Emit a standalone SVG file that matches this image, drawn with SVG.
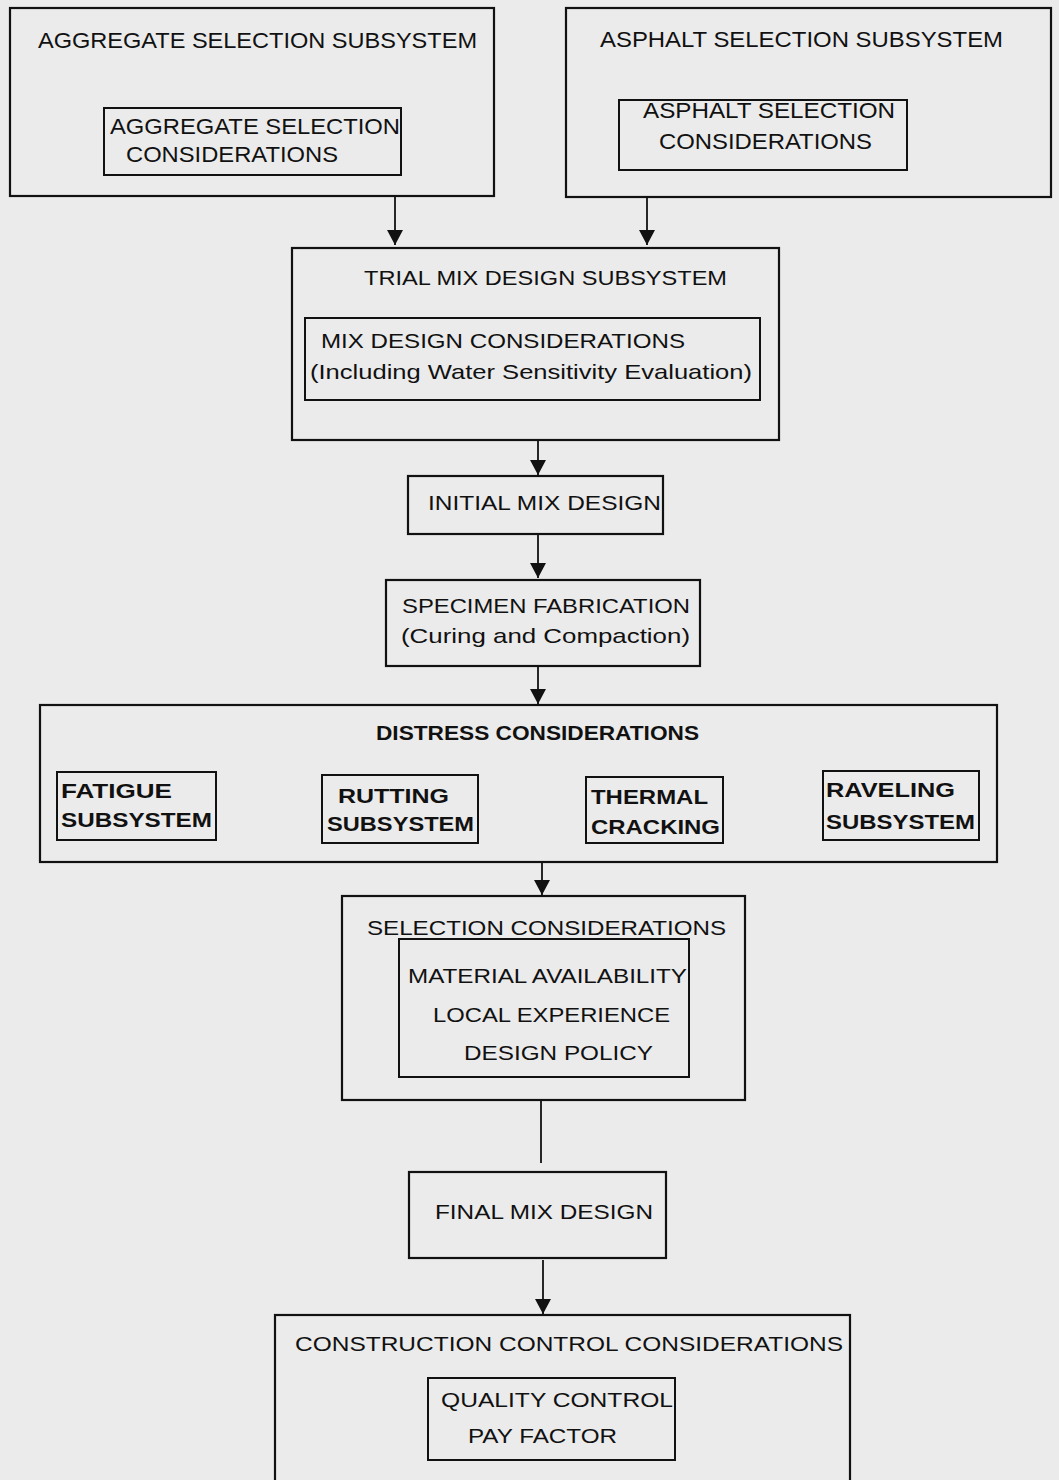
<svg xmlns="http://www.w3.org/2000/svg" width="1059" height="1480" viewBox="0 0 1059 1480">
<style>
.bg{fill:#ebebeb}
.box{fill:none;stroke:#111;stroke-width:2.2}
.in{fill:none;stroke:#111;stroke-width:2}
text{font-family:"Liberation Sans",Arial,sans-serif;font-size:21px;fill:#111}
.t{font-size:22px}
.b{font-weight:bold;font-size:20px}
.c{stroke:#111;stroke-width:1.8;fill:none}
</style>
<defs>
<marker id="ah" markerUnits="userSpaceOnUse" markerWidth="18" markerHeight="18" refX="15" refY="8" orient="auto">
<path d="M0,0 L15,8 L0,16 z" fill="#111"/>
</marker>
</defs>
<rect class="bg" x="0" y="0" width="1059" height="1480"/>

<g id="aggregate">
<rect class="box" x="10" y="8" width="484" height="188"/>
<text class="t" x="38" y="48" textLength="439" lengthAdjust="spacingAndGlyphs">AGGREGATE SELECTION SUBSYSTEM</text>
<rect class="in" x="104" y="108" width="297" height="67"/>
<text class="t" x="110" y="134" textLength="290" lengthAdjust="spacingAndGlyphs">AGGREGATE SELECTION</text>
<text class="t" x="126" y="162" textLength="212" lengthAdjust="spacingAndGlyphs">CONSIDERATIONS</text>
</g>

<g id="asphalt">
<rect class="box" x="566" y="8" width="485" height="189"/>
<text class="t" x="600" y="47" textLength="403" lengthAdjust="spacingAndGlyphs">ASPHALT SELECTION SUBSYSTEM</text>
<rect class="in" x="619" y="100" width="288" height="70"/>
<text class="t" x="643" y="118" textLength="252" lengthAdjust="spacingAndGlyphs">ASPHALT SELECTION</text>
<text class="t" x="659" y="149" textLength="213" lengthAdjust="spacingAndGlyphs">CONSIDERATIONS</text>
</g>

<g id="trial">
<rect class="box" x="292" y="248" width="487" height="192"/>
<text x="364" y="285" textLength="363" lengthAdjust="spacingAndGlyphs">TRIAL MIX DESIGN SUBSYSTEM</text>
<rect class="in" x="305" y="318" width="455" height="82"/>
<text x="321" y="348" textLength="364" lengthAdjust="spacingAndGlyphs">MIX DESIGN CONSIDERATIONS</text>
<text x="310" y="379" textLength="442" lengthAdjust="spacingAndGlyphs">(Including Water Sensitivity Evaluation)</text>
</g>

<g id="initial">
<rect class="box" x="408" y="476" width="255" height="58"/>
<text x="428" y="510" textLength="233" lengthAdjust="spacingAndGlyphs">INITIAL MIX DESIGN</text>
</g>

<g id="specimen">
<rect class="box" x="386" y="580" width="314" height="86"/>
<text x="402" y="613" textLength="288" lengthAdjust="spacingAndGlyphs">SPECIMEN FABRICATION</text>
<text x="401" y="643" textLength="289" lengthAdjust="spacingAndGlyphs">(Curing and Compaction)</text>
</g>

<g id="distress">
<rect class="box" x="40" y="705" width="957" height="157"/>
<text class="b" x="376" y="740" textLength="323" lengthAdjust="spacingAndGlyphs">DISTRESS CONSIDERATIONS</text>
<g id="fatigue">
<rect class="in" x="57" y="772" width="159" height="68"/>
<text class="b" x="61" y="798" textLength="111" lengthAdjust="spacingAndGlyphs">FATIGUE</text>
<text class="b" x="61" y="827" textLength="151" lengthAdjust="spacingAndGlyphs">SUBSYSTEM</text>
</g>
<g id="rutting">
<rect class="in" x="322" y="775" width="156" height="68"/>
<text class="b" x="338" y="803" textLength="111" lengthAdjust="spacingAndGlyphs">RUTTING</text>
<text class="b" x="327" y="831" textLength="147" lengthAdjust="spacingAndGlyphs">SUBSYSTEM</text>
</g>
<g id="thermal">
<rect class="in" x="586" y="777" width="137" height="66"/>
<text class="b" x="591" y="804" textLength="117" lengthAdjust="spacingAndGlyphs">THERMAL</text>
<text class="b" x="591" y="834" textLength="129" lengthAdjust="spacingAndGlyphs">CRACKING</text>
</g>
<g id="raveling">
<rect class="in" x="823" y="771" width="156" height="69"/>
<text class="b" x="826" y="797" textLength="129" lengthAdjust="spacingAndGlyphs">RAVELING</text>
<text class="b" x="826" y="829" textLength="149" lengthAdjust="spacingAndGlyphs">SUBSYSTEM</text>
</g>
</g>

<g id="selection">
<rect class="box" x="342" y="896" width="403" height="204"/>
<text x="367" y="935" textLength="359" lengthAdjust="spacingAndGlyphs">SELECTION CONSIDERATIONS</text>
<rect class="in" x="399" y="939" width="290" height="138"/>
<text x="408" y="983" textLength="279" lengthAdjust="spacingAndGlyphs">MATERIAL AVAILABILITY</text>
<text x="433" y="1022" textLength="237" lengthAdjust="spacingAndGlyphs">LOCAL EXPERIENCE</text>
<text x="464" y="1060" textLength="189" lengthAdjust="spacingAndGlyphs">DESIGN POLICY</text>
</g>

<g id="final">
<rect class="box" x="409" y="1172" width="257" height="86"/>
<text x="435" y="1219" textLength="218" lengthAdjust="spacingAndGlyphs">FINAL MIX DESIGN</text>
</g>

<g id="construction">
<rect class="box" x="275" y="1315" width="575" height="180"/>
<text x="295" y="1351" textLength="548" lengthAdjust="spacingAndGlyphs">CONSTRUCTION CONTROL CONSIDERATIONS</text>
<rect class="in" x="428" y="1378" width="247" height="82"/>
<text x="441" y="1407" textLength="232" lengthAdjust="spacingAndGlyphs">QUALITY CONTROL</text>
<text x="468" y="1443" textLength="149" lengthAdjust="spacingAndGlyphs">PAY FACTOR</text>
</g>

<g id="connectors">
<line class="c" x1="395" y1="196" x2="395" y2="245" marker-end="url(#ah)"/>
<line class="c" x1="647" y1="197" x2="647" y2="245" marker-end="url(#ah)"/>
<line class="c" x1="538" y1="440" x2="538" y2="475" marker-end="url(#ah)"/>
<line class="c" x1="538" y1="534" x2="538" y2="578" marker-end="url(#ah)"/>
<line class="c" x1="538" y1="666" x2="538" y2="704" marker-end="url(#ah)"/>
<line class="c" x1="542" y1="862" x2="542" y2="895" marker-end="url(#ah)"/>
<line class="c" x1="541" y1="1100" x2="541" y2="1163"/>
<line class="c" x1="543" y1="1260" x2="543" y2="1314" marker-end="url(#ah)"/>
</g>
</svg>
